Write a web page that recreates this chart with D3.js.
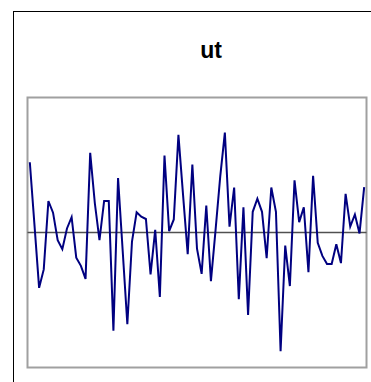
<!DOCTYPE html>
<html>
<head>
<meta charset="utf-8">
<script src="https://cdn.jsdelivr.net/npm/d3@7"></script>
<style>
  html, body { margin: 0; padding: 0; background: #fff; }
  svg { display: block; }
</style>
</head>
<body>
<svg id="chart" width="371" height="382"></svg>
<script>
// ---- data ----
const title = "ut";
const values = [
  1.56, 0.17, -1.23, -0.82, 0.70, 0.44, -0.17, -0.37, 0.09, 0.34,
  -0.56, -0.74, -1.03, 1.77, 0.65, -0.17, 0.70, 0.70, -2.18, 1.21,
  -0.41, -2.04, -0.20, 0.45, 0.35, 0.30, -0.93, 0.06, -1.43, 1.71,
  0.03, 0.29, 2.17, 0.83, -0.48, 1.51, -0.36, -0.92, 0.60, -1.08,
  0.06, 1.24, 2.22, 0.13, 1.00, -1.48, 0.56, -1.83, 0.46, 0.75,
  0.46, -0.57, 1.00, 0.46, -2.64, -0.29, -1.19, 1.16, 0.23, 0.56,
  -0.88, 1.26, -0.23, -0.52, -0.70, -0.70, -0.26, -0.68, 0.86, 0.13,
  0.40, -0.02, 1.01
];
const categories = values.map((_, i) => i + 1);
const yDomain = [-3, 3];

// ---- layout ----
const svg = d3.select("#chart");
const plot = { left: 27.5, right: 366.5, top: 97.5, bottom: 367.5 };

// outer chart-area border (extends past the viewport on right/bottom)
svg.append("rect")
  .attr("x", 13.5).attr("y", 11.5)
  .attr("width", 396).attr("height", 400)
  .attr("fill", "#fff")
  .attr("stroke", "#000").attr("stroke-width", 1);

// title
svg.append("text")
  .attr("x", 211).attr("y", 58)
  .attr("text-anchor", "middle")
  .attr("font-family", "'Liberation Sans', Arial, sans-serif")
  .attr("font-weight", "bold")
  .attr("font-size", 23)
  .attr("fill", "#000")
  .text(title);

const x = d3.scalePoint()
  .domain(categories)
  .range([plot.left, plot.right])
  .padding(0.5);

const y = d3.scaleLinear()
  .domain(yDomain)
  .range([plot.bottom, plot.top]);

// plot area border
svg.append("rect")
  .attr("x", plot.left).attr("y", plot.top)
  .attr("width", plot.right - plot.left)
  .attr("height", plot.bottom - plot.top)
  .attr("fill", "#fff")
  .attr("stroke", "#a0a0a0").attr("stroke-width", 2);

// zero line (category axis)
svg.append("line")
  .attr("x1", plot.left).attr("x2", plot.right)
  .attr("y1", y(0)).attr("y2", y(0))
  .attr("stroke", "#505050").attr("stroke-width", 1.3);

// series
const line = d3.line()
  .x((d, i) => x(categories[i]))
  .y(d => y(d));

svg.append("path")
  .datum(values)
  .attr("d", line)
  .attr("fill", "none")
  .attr("stroke", "#000080")
  .attr("stroke-width", 2)
  .attr("stroke-linejoin", "miter");
</script>
</body>
</html>
